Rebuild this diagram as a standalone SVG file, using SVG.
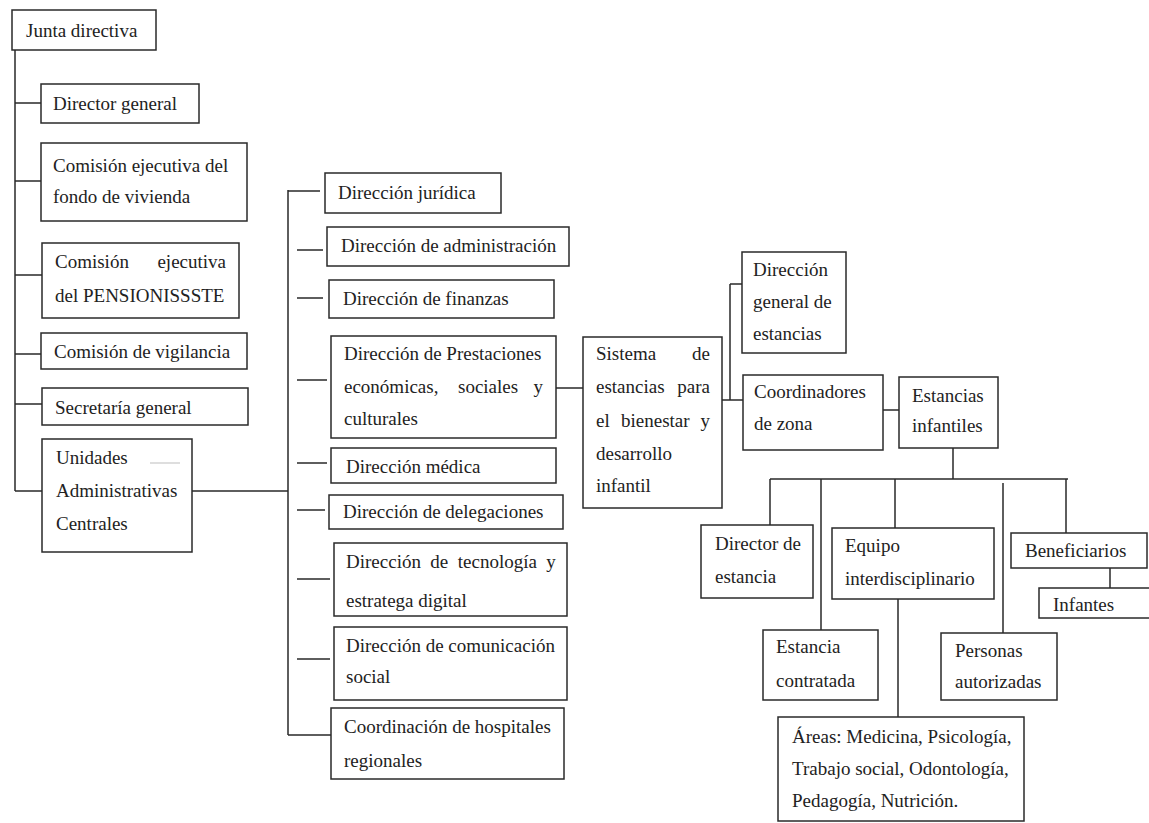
<svg xmlns="http://www.w3.org/2000/svg" width="1149" height="823" viewBox="0 0 1149 823">
<style>
.b{fill:#fff;stroke:#2a2a2a;stroke-width:1.5}
.t{font-family:'Liberation Serif','Times New Roman',serif;font-size:19px;fill:#222}
.e{text-anchor:end}
.c{stroke:#2a2a2a;stroke-width:1.5;fill:none}
</style>
<rect width="1149" height="823" fill="#fff"/>
<g id="connectors">
<path class="c" d="M15,50V491M15,103H41M15,181H41M15,275H42M15,354H41M15,404H42M15,491H42"/>
<path class="c" d="M192,491H288M288,190V735M288,191H320M297,250H323M297,298H323M297,380H327M297,463H327M297,510H325M297,579H330M297,659H330M288,735H331"/>
<path class="c" d="M556,388H583M722,400H730M730,284V400M730,284H742M730,400H743M883,410H899"/>
<path class="c" d="M953,448V479M770,479H1068M770,479V525M821,479V630M895,479V528M1003,483V633M1066,479V533M1110,568V588M898,599V717"/>
</g>
<g id="junta"><rect class="b" x="12" y="10" width="144" height="40"/><text class="t" x="26" y="37">Junta directiva</text></g>
<g id="director-general"><rect class="b" x="41" y="84" width="158" height="39"/><text class="t" x="53" y="110">Director general</text></g>
<g id="comision-vivienda"><rect class="b" x="41" y="143" width="206" height="78"/><text class="t" x="53" y="172">Comisión ejecutiva del</text><text class="t" x="53" y="203">fondo de vivienda</text></g>
<g id="comision-pension"><rect class="b" x="42" y="243" width="197" height="75"/><text class="t" x="55" y="268">Comisión</text><text class="t e" x="226" y="268">ejecutiva</text><text class="t" x="55" y="302">del PENSIONISSSTE</text></g>
<g id="comision-vigilancia"><rect class="b" x="41" y="333" width="206" height="36"/><text class="t" x="54" y="358">Comisión de vigilancia</text></g>
<g id="secretaria"><rect class="b" x="42" y="388" width="206" height="37"/><text class="t" x="55" y="414">Secretaría general</text></g>
<g id="unidades"><rect class="b" x="42" y="439" width="150" height="113"/><text class="t" x="56" y="464">Unidades</text><line x1="150" y1="463" x2="180" y2="463" stroke="#c8c8c8" stroke-width="1.2"/><text class="t" x="56" y="497">Administrativas</text><text class="t" x="56" y="530">Centrales</text></g>
<g id="dir-juridica"><rect class="b" x="325" y="173" width="176" height="40"/><text class="t" x="338" y="199">Dirección jurídica</text></g>
<g id="dir-administracion"><rect class="b" x="327" y="227" width="242" height="39"/><text class="t" x="341" y="252">Dirección de administración</text></g>
<g id="dir-finanzas"><rect class="b" x="329" y="280" width="225" height="38"/><text class="t" x="343" y="305">Dirección de finanzas</text></g>
<g id="dir-prestaciones"><rect class="b" x="331" y="336" width="225" height="102"/><text class="t" x="344" y="360">Dirección de Prestaciones</text><text class="t" x="344" y="393">económicas,</text><text class="t" x="458" y="393">sociales</text><text class="t e" x="543" y="393">y</text><text class="t" x="344" y="425">culturales</text></g>
<g id="dir-medica"><rect class="b" x="331" y="448" width="225" height="35"/><text class="t" x="346" y="473">Dirección médica</text></g>
<g id="dir-delegaciones"><rect class="b" x="329" y="495" width="234" height="34"/><text class="t" x="343" y="518">Dirección de delegaciones</text></g>
<g id="dir-tecnologia"><rect class="b" x="334" y="543" width="233" height="73"/><text class="t" x="346" y="568" word-spacing="4.7">Dirección de tecnología y</text><text class="t" x="346" y="607">estratega digital</text></g>
<g id="dir-comunicacion"><rect class="b" x="334" y="627" width="233" height="73"/><text class="t" x="346" y="652">Dirección de comunicación</text><text class="t" x="346" y="683">social</text></g>
<g id="coord-hospitales"><rect class="b" x="331" y="708" width="233" height="71"/><text class="t" x="344" y="733">Coordinación de hospitales</text><text class="t" x="344" y="767">regionales</text></g>
<g id="sistema"><rect class="b" x="583" y="337" width="139" height="171"/><text class="t" x="596" y="360">Sistema</text><text class="t e" x="710" y="360">de</text><text class="t" x="596" y="393">estancias</text><text class="t e" x="710" y="393">para</text><text class="t" x="596" y="427">el</text><text class="t" x="621" y="427">bienestar</text><text class="t e" x="710" y="427">y</text><text class="t" x="596" y="460">desarrollo</text><text class="t" x="596" y="492">infantil</text></g>
<g id="dir-general-estancias"><rect class="b" x="742" y="252" width="104" height="101"/><text class="t" x="753" y="276">Dirección</text><text class="t" x="753" y="308">general de</text><text class="t" x="753" y="340">estancias</text></g>
<g id="coordinadores"><rect class="b" x="743" y="375" width="140" height="75"/><text class="t" x="754" y="398">Coordinadores</text><text class="t" x="754" y="430">de zona</text></g>
<g id="estancias-infantiles"><rect class="b" x="899" y="377" width="99" height="71"/><text class="t" x="912" y="402">Estancias</text><text class="t" x="912" y="432">infantiles</text></g>
<g id="director-estancia"><rect class="b" x="701" y="525" width="112" height="73"/><text class="t" x="715" y="550">Director de</text><text class="t" x="715" y="583">estancia</text></g>
<g id="equipo"><rect class="b" x="832" y="528" width="162" height="71"/><text class="t" x="845" y="552">Equipo</text><text class="t" x="845" y="585">interdisciplinario</text></g>
<g id="beneficiarios"><rect class="b" x="1011" y="533" width="136" height="35"/><text class="t" x="1025" y="557">Beneficiarios</text></g>
<g id="infantes"><rect class="b" x="1039" y="588" width="112" height="30"/><text class="t" x="1053" y="611">Infantes</text></g>
<g id="estancia-contratada"><rect class="b" x="763" y="630" width="115" height="70"/><text class="t" x="776" y="653">Estancia</text><text class="t" x="776" y="687">contratada</text></g>
<g id="personas"><rect class="b" x="941" y="633" width="116" height="67"/><text class="t" x="955" y="657">Personas</text><text class="t" x="955" y="688">autorizadas</text></g>
<g id="areas"><rect class="b" x="778" y="717" width="246" height="104"/><text class="t" x="792" y="743">Áreas: Medicina, Psicología,</text><text class="t" x="792" y="775">Trabajo social, Odontología,</text><text class="t" x="792" y="807">Pedagogía, Nutrición.</text></g>
</svg>
